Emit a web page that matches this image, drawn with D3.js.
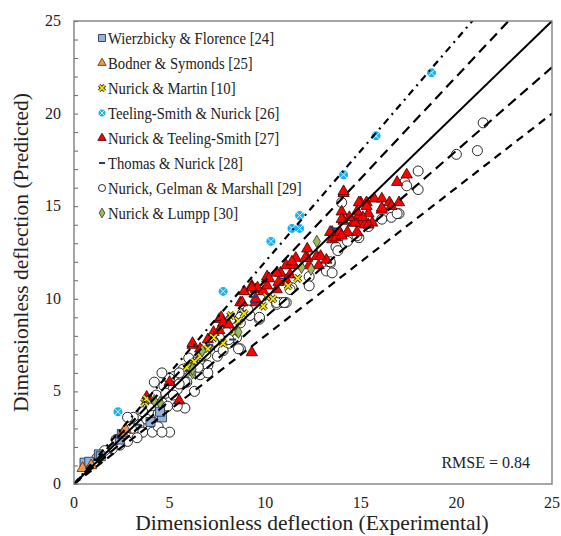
<!DOCTYPE html>
<html>
<head>
<meta charset="utf-8">
<script src="https://cdn.jsdelivr.net/npm/d3@7"></script>
<style>
  body { margin: 0; background: #fff; }
</style>
</head>
<body>
<div id="chart"></div>
<script>
(function() {

// ---- data (experimental, predicted) ----
var wierzbicky = [[0.55,1.15],[0.8,1.2],[1.3,1.6],[1.4,1.5],[2.4,2.4],[2.5,2.7],[4.0,3.35],[4.6,3.6],[4.5,3.9]];
var bodner = [[0.45,0.85],[0.9,1.0],[2.55,2.75],[2.7,2.95]];
var martin = [[3.7,4.4],[3.8,4.6],[5.9,6.3],[6.3,6.6],[6.6,6.9],[7.0,7.3],[7.3,7.9],[7.8,7.6],[8.4,8.2],[8.2,9.1],[8.6,8.8],[8.9,9.2],[9.9,9.6],[10.1,10.1],[10.4,10.0],[11.2,10.7],[11.7,11.1]];
var teeling = [[2.3,3.9],[7.8,10.4],[10.3,13.1],[11.4,13.8],[11.8,13.8],[11.8,14.5],[14.1,16.7],[15.8,18.8],[18.7,22.2]];
var nurickTS = [[3.8,4.7],[5.5,4.5],[5.0,5.5],[6.2,7.5],[6.6,7.3],[7.0,7.8],[7.3,8.2],[7.6,8.3],[7.6,8.9],[7.7,9.0],[7.8,8.7],[8.1,8.6],[9.3,7.1],
  [8.7,9.8],[8.8,9.8],[8.9,10.4],[9.5,9.8],[9.5,10.5],[9.3,10.7],[9.6,10.6],[9.9,10.4],[10.1,10.7],[10.1,11.1],[10.6,10.5],[10.7,10.9],
  [10.1,11.2],[10.8,11.4],[11.3,11.3],[11.1,11.8],[11.5,11.8],[11.6,12.2],[12.3,11.8],[12.8,11.8],[12.2,12.2],[12.7,12.3],[12.2,12.7],
  [13.2,12.1],[12.9,12.3],[12.1,12.2],[11.4,12.0],[10.6,11.4],[11.1,11.0],[10.2,11.1],[9.3,10.6],[9.5,10.0],[13.5,13.2],[13.7,13.3],
  [13.5,13.6],[13.9,13.6],[14.3,13.6],[13.4,13.6],[14.0,13.4],[14.8,13.6],[14.1,14.2],[14.6,14.1],[15.0,14.1],[15.6,14.1],[14.7,14.1],
  [15.2,14.0],[15.4,14.0],[14.0,14.7],[14.4,14.4],[14.9,14.5],[15.4,14.6],[15.1,14.4],[14.0,14.3],[14.8,14.7],[14.1,15.7],[15.0,15.2],
  [15.3,15.2],[15.7,15.4],[16.1,14.8],[16.1,15.4],[16.5,15.2],[17.0,15.2],[16.6,15.0],[16.1,14.9],[14.9,15.2],[15.3,15.0],[14.1,15.8],
  [16.9,16.3],[17.4,16.7],[6.2,7.6]];
var thomas = [[1.2,1.3],[2.4,2.5],[3.3,3.2],[4.6,4.2],[6.0,6.1],[7.1,7.5],[8.3,7.8],[8.8,9.3],[9.4,9.8],[9.4,10.1],[10.9,11.1],[13.6,13.8]];
var gelman = [[21.4,19.5],[21.1,18.0],[20.0,17.8],[18.0,16.9],[17.3,16.3],[17.4,16.1],[18.0,15.9],[16.6,14.4],[17.0,14.6],[16.1,14.3],
  [16.9,14.6],[15.4,13.9],[14.9,13.3],[14.3,13.1],[13.7,12.8],[14.0,15.2],[13.4,11.9],[13.2,11.5],[12.3,11.2],[11.4,10.6],[10.8,9.8],
  [11.1,9.8],[8.8,9.2],[9.2,9.1],[9.7,8.9],[8.2,8.9],[8.7,8.7],[8.0,8.2],[8.5,7.9],[8.7,7.3],[8.1,7.6],[7.6,7.9],[7.2,7.6],[6.6,6.7],
  [6.2,6.3],[5.8,6.0],[5.9,5.5],[9.7,9.0],[9.1,9.4],[8.1,7.8],[7.6,7.3],[7.3,7.7],[6.2,6.6],[5.7,6.2],[5.2,5.8],[4.9,5.6],[6.7,6.9],
  [8.6,7.3],[8.7,9.0],[14.8,13.4],[13.8,12.6],[13.4,12.0],[13.5,11.4],[12.3,10.7],[11.3,10.5],[10.6,9.7],[10.6,9.8],[11.0,9.8],
  [5.8,4.1],[5.0,2.8],[3.1,3.6],[4.0,4.1],[4.1,3.7],[4.4,3.8],[3.4,3.2],[3.6,2.8],[4.1,2.8],[4.4,3.1],[3.3,2.5],[2.8,2.3],[2.4,2.1],
  [2.0,1.9],[4.3,4.8],[4.7,5.3],[5.0,5.7],[5.4,5.1],[5.8,5.5],[5.5,6.0],[4.6,4.4],[4.9,4.2],[5.4,4.2],[2.8,3.6],[4.2,5.5],[4.6,2.8],
  [1.6,1.8],[1.2,1.4],[3.0,3.0],[3.8,3.5],[6.3,5.0],[6.6,5.9],[7.0,6.4],[7.5,6.9],[6.9,7.0],[4.8,4.9],[5.2,4.8],[3.6,3.9],[2.2,2.4],
  [1.0,1.1],[6.0,6.8],[5.5,5.4],[7.8,7.2],[7.0,6.0],[6.5,6.3],[4.6,6.0]];
var lumpp = [[4.2,4.5],[4.5,4.4],[6.2,6.0],[6.2,6.2],[6.7,7.2],[8.6,8.2],[11.9,11.7],[12.4,11.6],[12.7,13.1]];

var legendNames = ["Wierzbicky & Florence [24]", "Bodner & Symonds [25]", "Nurick & Martin [10]",
  "Teeling-Smith & Nurick [26]", "Nurick & Teeling-Smith [27]", "Thomas & Nurick [28]",
  "Nurick, Gelman & Marshall [29]", "Nurick & Lumpp [30]"];
var xTicks = [0, 5, 10, 15, 20, 25];
var yTicks = [0, 5, 10, 15, 20, 25];
var bandSlopes = [1.2, 1.1, 1, 0.9, 0.8];
var rmse = 0.84;

var width = 561, height = 536;
var margin = {top: 21, right: 9, bottom: 52, left: 74};
var serif = "'Liberation Serif', 'Times New Roman', Times, 'DejaVu Serif', serif";

var svg = d3.select("#chart").append("svg")
  .attr("width", width)
  .attr("height", height)
  .attr("font-family", serif)
  .style("font-family", serif);

var x = d3.scaleLinear().domain([0, 25]).range([margin.left, width - margin.right]);
var y = d3.scaleLinear().domain([0, 25]).range([height - margin.bottom, margin.top]);

// clip to plot area
svg.append("defs").append("clipPath").attr("id", "clip")
  .append("rect")
  .attr("x", x(0)).attr("y", y(25))
  .attr("width", x(25) - x(0)).attr("height", y(0) - y(25));

// left axis: inward minor ticks every unit
var yAxis = svg.append("g")
  .attr("transform", "translate(" + x(0) + ",0)")
  .call(d3.axisRight(y).tickValues(d3.range(0, 26, 1)).tickSize(4).tickFormat(""));
yAxis.select(".domain").remove();
yAxis.selectAll("line").attr("stroke", "#666");

function label(sel, size) {
  return sel.attr("font-family", serif).style("font-family", serif)
    .style("font-size", size + "px").attr("fill", "#222");
}

label(svg.append("g").selectAll("text")
  .data(yTicks).enter().append("text")
  .attr("x", x(0) - 13)
  .attr("y", function(d) { return y(d) + 5; })
  .attr("text-anchor", "end")
  .text(function(d) { return d; }), 16);

label(svg.append("g").selectAll("text")
  .data(xTicks).enter().append("text")
  .attr("x", function(d) { return x(d); })
  .attr("y", y(0) + 24)
  .attr("text-anchor", "middle")
  .text(function(d) { return d; }), 16);

// axis titles
label(svg.append("text")
  .attr("x", (x(0) + x(25)) / 2 - 1)
  .attr("y", height - 6)
  .attr("text-anchor", "middle")
  .text("Dimensionless deflection (Experimental)"), 21.5);

label(svg.append("text")
  .attr("transform", "translate(" + 28 + "," + ((y(0) + y(25)) / 2) + ") rotate(-90)")
  .attr("text-anchor", "middle")
  .text("Dimensionless deflection (Predicted)"), 21.5);

var plot = svg.append("g").attr("clip-path", "url(#clip)");

// markers
var tri = d3.symbol().type(d3.symbolTriangle);
var sq = d3.symbol().type(d3.symbolSquare);
var dia = d3.symbol().type(d3.symbolDiamond);
var cross = d3.symbol().type(d3.symbolTimes);

function tr(d) { return "translate(" + x(d[0]) + "," + y(d[1]) + ")"; }

function drawCircle(g, s) {
  g.append("circle").attr("r", s).attr("fill", "#fff").attr("stroke", "#111").attr("stroke-width", 0.9);
}
function drawSquare(g, s) {
  g.append("path").attr("d", sq.size(s * s)()).attr("fill", "#95b3d7").attr("stroke", "#23395d").attr("stroke-width", 0.9);
}
function drawOrange(g, s) {
  g.append("path").attr("d", tri.size(s)()).attr("fill", "#f79646").attr("stroke", "#5a2a00").attr("stroke-width", 0.8);
}
function drawRed(g, s) {
  g.append("path").attr("d", tri.size(s)()).attr("fill", "#ff0000").attr("stroke", "#3a0000").attr("stroke-width", 0.8);
}
function drawYellow(g, s) {
  g.append("path").attr("d", cross.size(s)()).attr("fill", "none").attr("stroke", "#222").attr("stroke-width", 3.4);
  g.append("path").attr("d", cross.size(s)()).attr("fill", "none").attr("stroke", "#f5e400").attr("stroke-width", 1.8);
}
function drawCyan(g, s) {
  g.append("circle").attr("r", s).attr("fill", "#19b2ef");
  g.append("path").attr("d", cross.size(s * s * 1.6)()).attr("fill", "none").attr("stroke", "#d8f2ff").attr("stroke-width", 1);
}
function drawDash(g, s) {
  g.append("line").attr("x1", -s).attr("x2", s).attr("stroke", "#1f3f7a").attr("stroke-width", 2);
}
function drawGreen(g, s) {
  g.append("path").attr("d", dia.size(s)()).attr("fill", "#9bbb59").attr("stroke", "#333").attr("stroke-width", 0.8);
}

var series = [
  {data: gelman, draw: drawCircle, size: 5},
  {data: wierzbicky, draw: drawSquare, size: 9},
  {data: bodner, draw: drawOrange, size: 55},
  {data: nurickTS, draw: drawRed, size: 55},
  {data: thomas, draw: drawDash, size: 3.5},
  {data: martin, draw: drawYellow, size: 30},
  {data: lumpp, draw: drawGreen, size: 45},
  {data: teeling, draw: drawCyan, size: 4.5}
];

series.forEach(function(s) {
  plot.append("g").selectAll("g")
    .data(s.data).enter().append("g")
    .attr("transform", tr)
    .each(function() { s.draw(d3.select(this), s.size); });
});

// reference lines y = k * x
var styles = {"1.2": "7,5,2,5", "1.1": "10,6", "1": null, "0.9": "10,6", "0.8": "8,6"};
plot.selectAll(".band")
  .data(bandSlopes).enter().append("line")
  .attr("class", "band")
  .attr("x1", x(0)).attr("y1", y(0))
  .attr("x2", x(25)).attr("y2", function(k) { return y(25 * k); })
  .attr("stroke", "#000")
  .attr("stroke-width", function(k) { return k === 1 ? 2 : 2.2; })
  .attr("stroke-dasharray", function(k) { return styles[String(k)]; });

// frame
svg.append("rect")
  .attr("x", x(0)).attr("y", y(25))
  .attr("width", x(25) - x(0)).attr("height", y(0) - y(25))
  .attr("fill", "none").attr("stroke", "#777").attr("stroke-width", 1.3);

// legend (text is a bit condensed in the reference)
var legendDraw = [
  [drawSquare, 7], [drawOrange, 30], [drawYellow, 22], [drawCyan, 3.5],
  [drawRed, 30], [drawDash, 3], [drawCircle, 3.5], [drawGreen, 28]
];
var legend = svg.append("g");
legendNames.forEach(function(name, i) {
  var row = legend.append("g").attr("transform", "translate(102," + (38 + 25 * i) + ")");
  legendDraw[i][0](row, legendDraw[i][1]);
  label(row.append("text")
    .attr("transform", "translate(6,5.5) scale(0.89,1)")
    .text(name), 16.5);
});

label(svg.append("text")
  .attr("x", x(25) - 22)
  .attr("y", y(0) - 16)
  .attr("text-anchor", "end")
  .text("RMSE = " + rmse), 16);

})();
</script>
</body>
</html>
